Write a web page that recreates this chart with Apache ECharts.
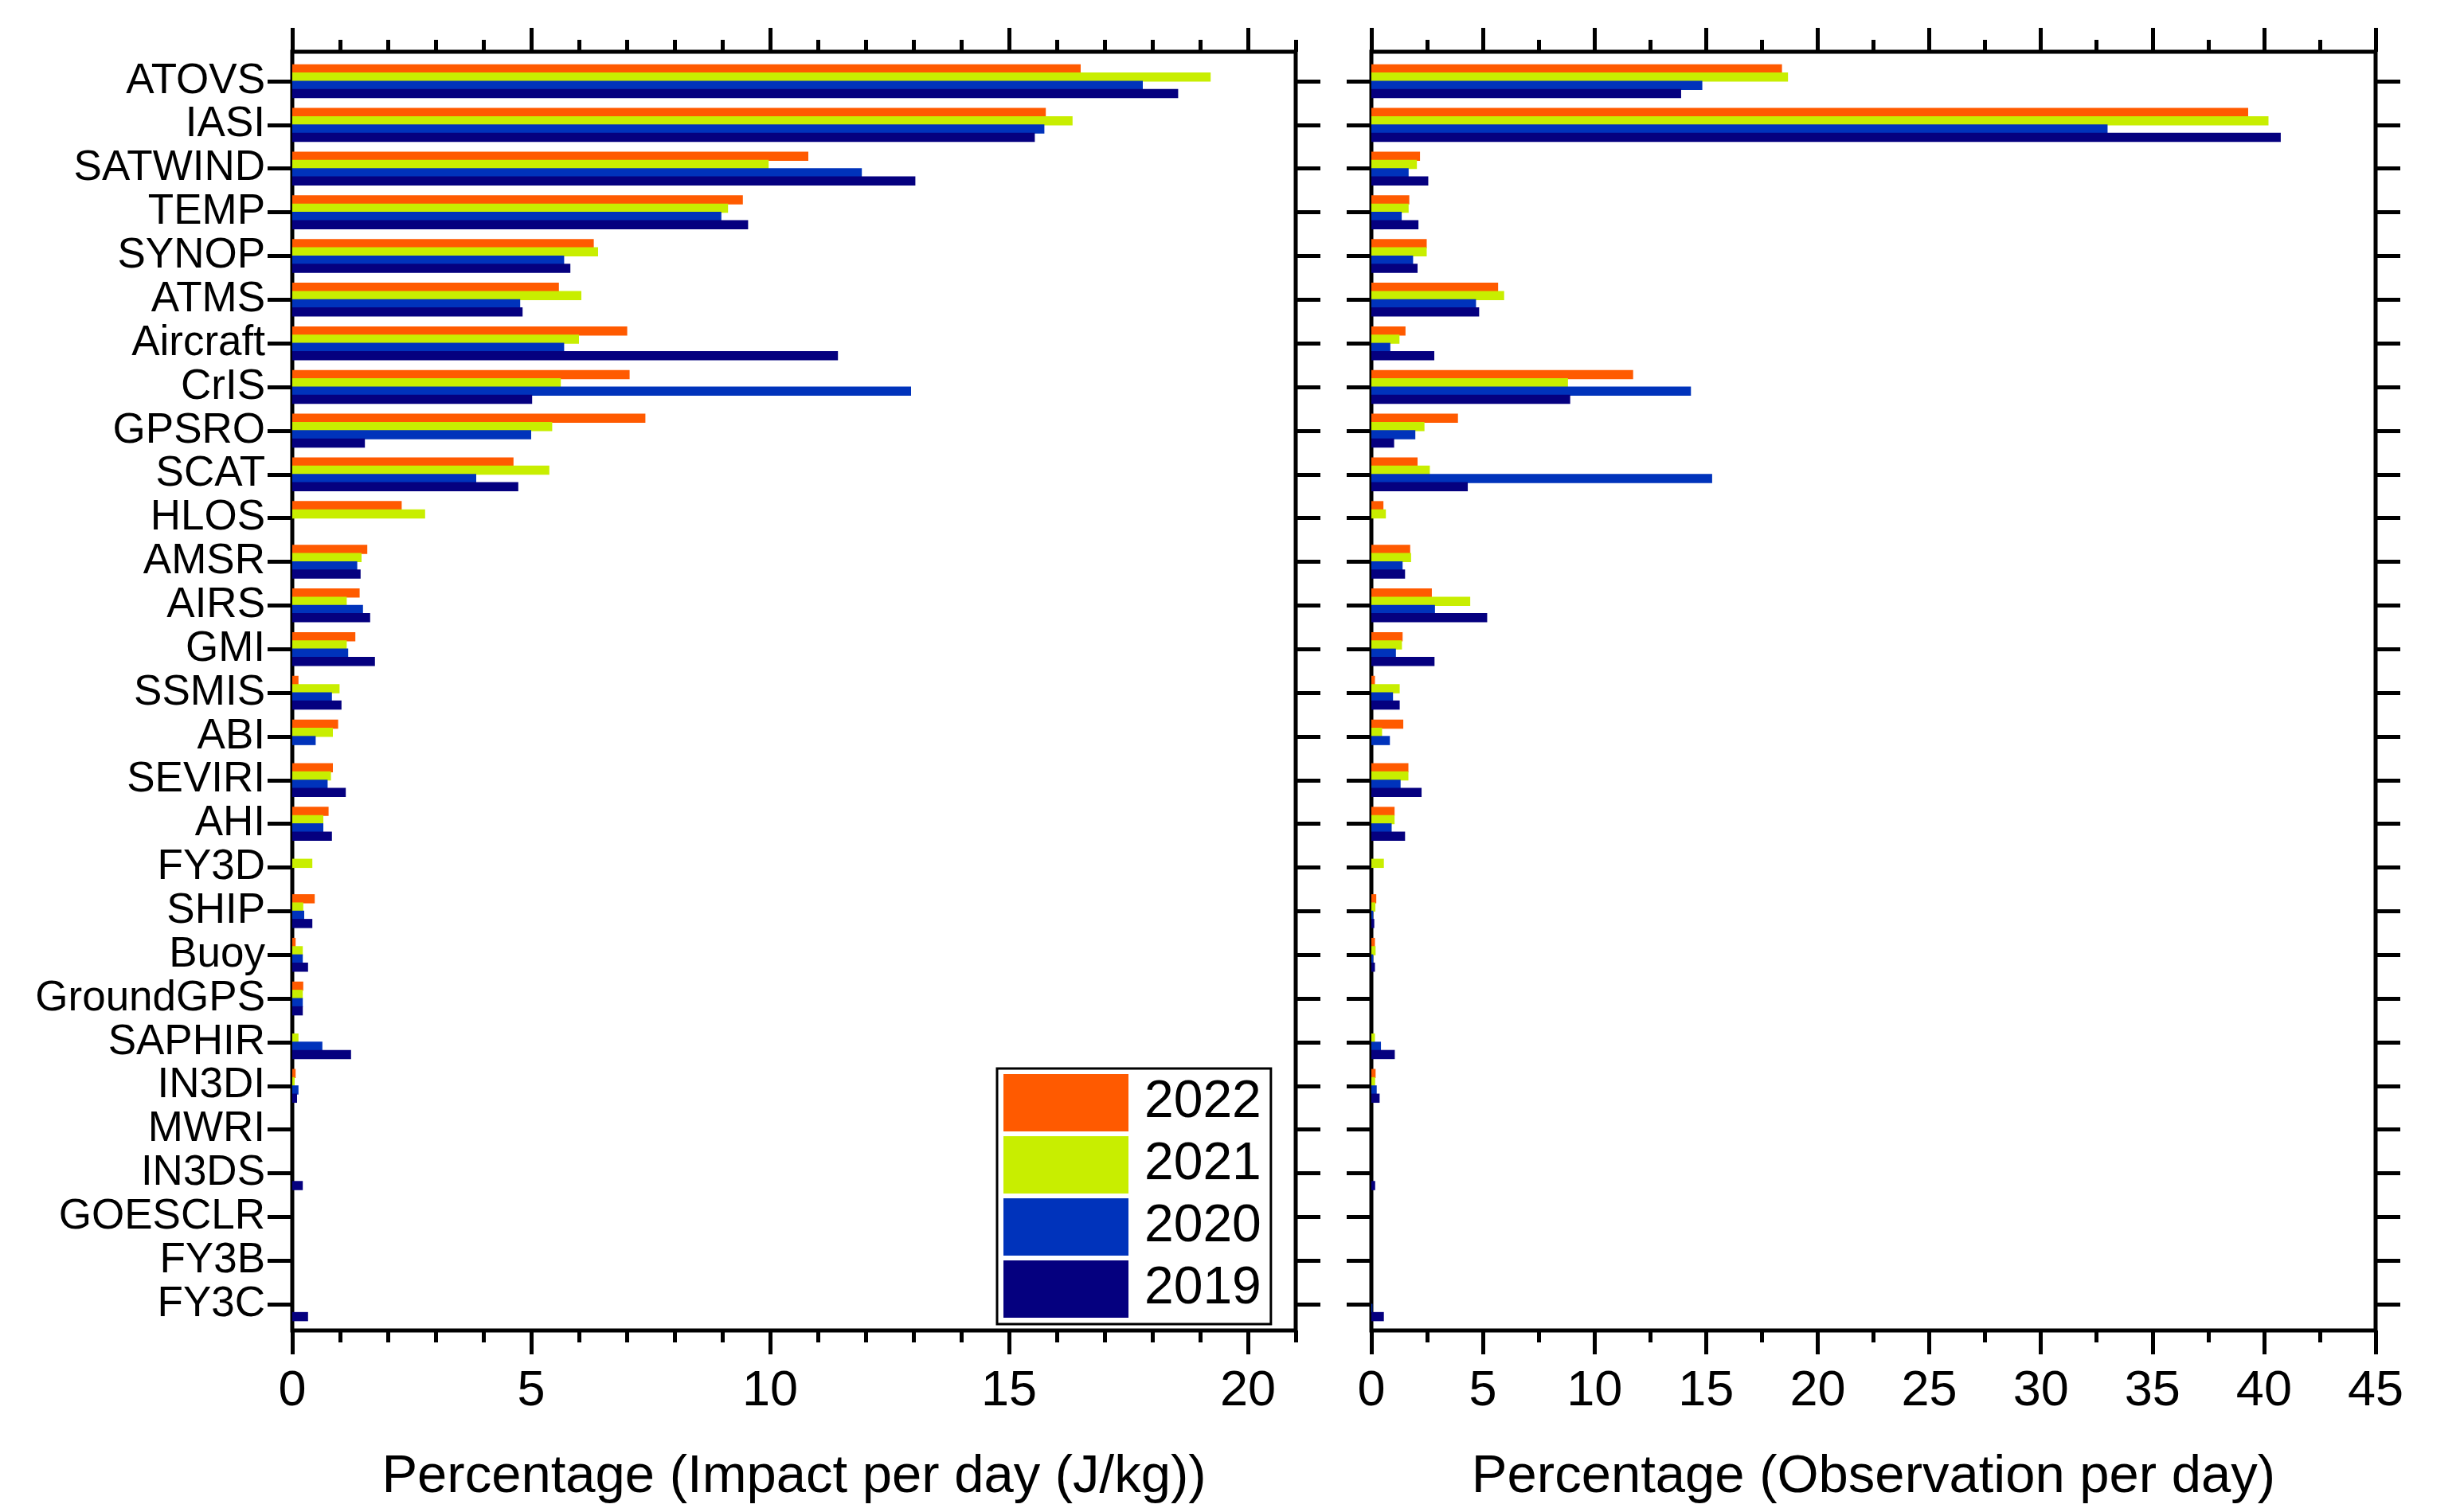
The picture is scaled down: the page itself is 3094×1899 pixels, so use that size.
<!DOCTYPE html>
<html>
<head>
<meta charset="utf-8">
<script src="https://cdn.jsdelivr.net/npm/echarts@6/dist/echarts.min.js"></script>
<style>
html,body{margin:0;padding:0;background:#fff;}
#chart{width:3094px;height:1899px;}
</style>
</head>
<body>
<div id="chart"></div>
<script>
var categories = ['ATOVS','IASI','SATWIND','TEMP','SYNOP','ATMS','Aircraft','CrIS','GPSRO','SCAT','HLOS','AMSR','AIRS','GMI','SSMIS','ABI','SEVIRI','AHI','FY3D','SHIP','Buoy','GroundGPS','SAPHIR','IN3DI','MWRI','IN3DS','GOESCLR','FY3B','FY3C'];
var years = ['2022','2021','2020','2019'];
var yearColors = ['#FF5A00','#C8EE00','#0033BB','#05007F'];

var impact2022 = [16.50,15.77,10.80,9.43,6.31,5.58,7.01,7.06,7.39,4.63,2.29,1.57,1.41,1.32,0.13,0.96,0.85,0.76,0,0.47,0.07,0.23,0,0.07,0,0,0,0,0];
var impact2021 = [19.22,16.33,9.97,9.12,6.40,6.05,6.00,5.62,5.44,5.38,2.78,1.45,1.14,1.14,0.99,0.85,0.81,0.65,0.42,0.23,0.22,0.22,0.13,0.05,0,0,0,0,0];
var impact2020 = [17.80,15.74,11.92,8.98,5.69,4.77,5.69,12.95,5.00,3.85,0,1.36,1.48,1.17,0.83,0.49,0.74,0.65,0,0.25,0.22,0.22,0.63,0.13,0,0,0,0,0];
var impact2019 = [18.54,15.54,13.04,9.54,5.82,4.82,11.42,5.02,1.52,4.73,0,1.43,1.63,1.73,1.03,0,1.12,0.83,0,0.42,0.33,0.22,1.23,0.10,0,0.22,0,0,0.33];

var obs2022 = [18.40,39.29,2.18,1.70,2.48,5.68,1.53,11.73,3.88,2.07,0.54,1.74,2.71,1.40,0.16,1.43,1.66,1.04,0,0.22,0.16,0,0,0.19,0,0,0,0,0];
var obs2021 = [18.67,40.20,2.04,1.67,2.48,5.95,1.26,8.81,2.38,2.62,0.65,1.78,4.43,1.37,1.27,0.48,1.66,1.04,0.56,0.18,0.19,0,0.16,0.17,0,0,0,0,0];
var obs2020 = [14.83,32.99,1.67,1.36,1.87,4.69,0.85,14.32,1.97,15.27,0,1.40,2.85,1.10,0.97,0.83,1.31,0.91,0,0.08,0.08,0,0.43,0.24,0,0,0,0,0.05];
var obs2019 = [13.88,40.75,2.55,2.11,2.07,4.83,2.82,8.91,1.02,4.32,0,1.51,5.19,2.83,1.27,0,2.25,1.51,0,0.13,0.16,0,1.05,0.37,0,0.17,0,0,0.56];

var impactMax = 21;
var impactMajorTicks = [0,5,10,15,20];
var impactMinorTicks = [0,1,2,3,4,5,6,7,8,9,10,11,12,13,14,15,16,17,18,19,20,21];
var obsMax = 45;
var obsMajorTicks = [0,5,10,15,20,25,30,35,40,45];
var obsMinorTicks = [0,2.5,5,7.5,10,12.5,15,17.5,20,22.5,25,27.5,30,32.5,35,37.5,40,42.5,45];

var impactTitle = 'Percentage (Impact per day (J/kg))';
var obsTitle = 'Percentage (Observation per day)';

var FONT = "'Liberation Sans', Arial, sans-serif";

var chart = echarts.init(document.getElementById('chart'), null, {renderer:'canvas'});

var frameTop = 65, frameH = 1606;
var barTop = 74.6, barH = 1590.9;
var leftL = 367, panelW = 1260;
var rightL = 1722, rightW = 1261;

function frameX(gridIndex, max, ticks, pos, len, labels, name) {
  return {
    type:'value', gridIndex:gridIndex, min:0, max:max, position:pos,
    axisLine:{show:false},
    splitLine:{show:false},
    axisTick:{show:true, inside:false, length:len, customValues:ticks, lineStyle:{color:'#000', width:5}},
    axisLabel:{show:labels, customValues:ticks, margin:45, color:'#000', fontSize:63, fontFamily:FONT},
    name: name || '', nameLocation:'middle', nameGap:151,
    nameTextStyle:{color:'#000', fontSize:67, fontFamily:FONT}
  };
}
function hiddenX(gridIndex, max) {
  return {type:'value', gridIndex:gridIndex, min:0, max:max, show:false};
}
function catY(gridIndex, pos, labels) {
  return {
    type:'category', gridIndex:gridIndex, data:categories, inverse:true, position:pos,
    axisLine:{show:false},
    axisTick:{show:true, alignWithLabel:true, interval:0, inside:false, length:31, lineStyle:{color:'#000', width:5}},
    axisLabel:{show:labels, interval:0, margin:34, color:'#000', fontSize:53, fontFamily:FONT},
    splitLine:{show:false}
  };
}

var xAxes = [
  frameX(0, impactMax, impactMajorTicks, 'bottom', 30, true, impactTitle),
  frameX(0, impactMax, impactMinorTicks, 'bottom', 15, false),
  frameX(0, impactMax, impactMajorTicks, 'top', 30, false),
  frameX(0, impactMax, impactMinorTicks, 'top', 15, false),
  hiddenX(1, impactMax),
  frameX(2, obsMax, obsMajorTicks, 'bottom', 30, true, obsTitle),
  frameX(2, obsMax, obsMinorTicks, 'bottom', 15, false),
  frameX(2, obsMax, obsMajorTicks, 'top', 30, false),
  frameX(2, obsMax, obsMinorTicks, 'top', 15, false),
  hiddenX(3, obsMax)
];
var hiddenYFrame = function(g){ return {type:'value', gridIndex:g, show:false, min:0, max:1}; };
var yAxes = [
  hiddenYFrame(0),
  catY(1, 'left', true),
  catY(1, 'right', false),
  hiddenYFrame(2),
  catY(3, 'left', false),
  catY(3, 'right', false)
];

var impactSets = [impact2022, impact2021, impact2020, impact2019];
var obsSets = [obs2022, obs2021, obs2020, obs2019];
var series = [];
function addBars(sets, xi, yi) {
  for (var i = 0; i < years.length; i++) {
    series.push({
      type:'bar', name:years[i], xAxisIndex:xi, yAxisIndex:yi,
      data:sets[i], barWidth:11.5, barGap:'-10%',
      itemStyle:{color:yearColors[i]}, silent:true, animation:false
    });
  }
}
addBars(impactSets, 4, 1);
addBars(obsSets, 9, 4);

chart.setOption({
  animation:false,
  backgroundColor:'#fff',
  grid:[
    {left:leftL, top:frameTop, width:panelW, height:frameH, show:true, borderColor:'#000', borderWidth:5, backgroundColor:'transparent'},
    {left:leftL, top:barTop, width:panelW, height:barH, show:false},
    {left:rightL, top:frameTop, width:rightW, height:frameH, show:true, borderColor:'#000', borderWidth:5, backgroundColor:'transparent'},
    {left:rightL, top:barTop, width:rightW, height:barH, show:false}
  ],
  xAxis:xAxes,
  yAxis:yAxes,
  legend:{
    data:years, orient:'vertical', left:1252, top:1342,
    icon:'rect', itemWidth:157, itemHeight:72, itemGap:6,
    padding:[7,12,8,8],
    borderColor:'#000', borderWidth:3, backgroundColor:'#fff',
    selectedMode:false,
    textStyle:{color:'#000', fontSize:66, fontFamily:FONT, padding:[0,0,0,15]}
  },
  series:series
});
</script>
</body>
</html>
